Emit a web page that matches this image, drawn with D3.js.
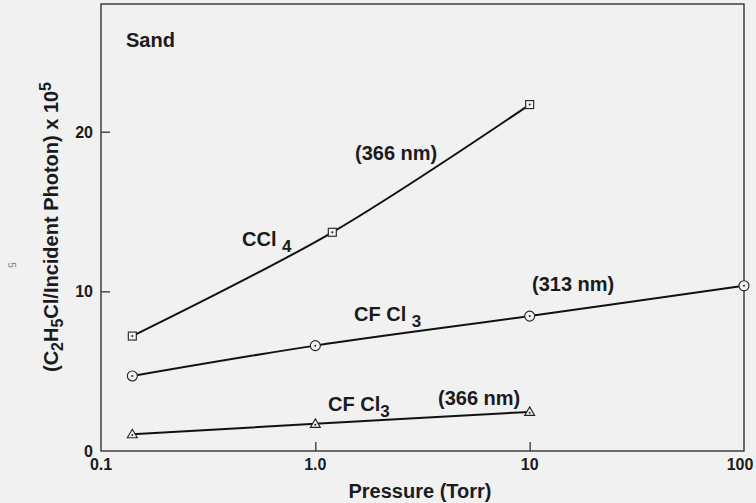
<!DOCTYPE html>
<html>
<head>
<meta charset="utf-8">
<script src="https://cdn.jsdelivr.net/npm/d3@7"></script>
<style>
  body { margin: 0; background: #f1f1f1; }
  svg { display: block; font-family: "Liberation Sans", Arial, sans-serif; font-weight: bold; }
</style>
</head>
<body>
<svg width="756" height="503"></svg>
<script>
// data
var ccl4P = [0.14, 1.2, 10];
var ccl4Y = [7.2, 13.7, 21.7];
var cfcl313P = [0.14, 1.0, 10, 100];
var cfcl313Y = [4.7, 6.6, 8.45, 10.35];
var cfcl366P = [0.14, 1.0, 10];
var cfcl366Y = [1.05, 1.7, 2.45];
var xTicks = [0.1, 1, 10, 100];
var xTickLabels = ["0.1", "1.0", "10", "100"];
var yTicks = [0, 10, 20];

var svg = d3.select("svg"),
    mLeft = 101, mRight = 744, mTop = 4, mBottom = 451;

var x = d3.scaleLog().domain([0.1, 100]).range([mLeft, mRight]);
var y = d3.scaleLinear().domain([0, 28]).range([mBottom, mTop]);

var ink = "#1b1b1b";

// frame
svg.append("rect")
    .attr("x", mLeft).attr("y", mTop)
    .attr("width", mRight - mLeft).attr("height", mBottom - mTop)
    .attr("fill", "none").attr("stroke", "#333").attr("stroke-width", 1.4);

// y ticks (inward) and labels
var yAxis = d3.axisRight(y).tickValues([10, 20]).tickSize(9).tickFormat("");
svg.append("g").attr("transform", "translate(" + mLeft + ",0)").call(yAxis)
    .call(function(g) { g.select(".domain").remove(); })
    .selectAll("line").attr("stroke", "#333").attr("stroke-width", 1.3);
svg.selectAll(".ylab").data(yTicks).enter().append("text")
    .attr("class", "ylab")
    .attr("x", 93).attr("y", function(d) { return y(d) + 6; })
    .attr("text-anchor", "end").attr("font-size", 16).attr("fill", ink)
    .text(function(d) { return d; });

// x ticks (inward, skip the ends) and labels
var xAxis = d3.axisTop(x).tickValues([1, 10]).tickSize(9).tickFormat("");
svg.append("g").attr("transform", "translate(0," + mBottom + ")").call(xAxis)
    .call(function(g) { g.select(".domain").remove(); })
    .selectAll("line").attr("stroke", "#333").attr("stroke-width", 1.3);
svg.selectAll(".xlab").data(xTicks).enter().append("text")
    .attr("class", "xlab")
    .attr("x", function(d, i) { return x(d) - (i == 3 ? 4 : 0); }).attr("y", 470)
    .attr("text-anchor", "middle").attr("font-size", 16).attr("fill", ink)
    .text(function(d, i) { return xTickLabels[i]; });

// axis titles
svg.append("text")
    .attr("x", 420).attr("y", 498)
    .attr("text-anchor", "middle").attr("font-size", 20).attr("fill", ink)
    .text("Pressure (Torr)");

var yt = svg.append("text")
    .attr("transform", "translate(58,227) rotate(-90)")
    .attr("text-anchor", "middle").attr("font-size", 20).attr("fill", ink);
yt.append("tspan").text("(C");
yt.append("tspan").attr("baseline-shift", "-30%").attr("font-size", 16).text("2");
yt.append("tspan").text("H");
yt.append("tspan").attr("baseline-shift", "-30%").attr("font-size", 16).text("5");
yt.append("tspan").text("Cl/Incident Photon) x 10");
yt.append("tspan").attr("baseline-shift", "45%").attr("font-size", 16).text("5");

// stray page mark on the left
svg.append("text")
    .attr("transform", "translate(8,265) rotate(90)")
    .attr("text-anchor", "middle").attr("font-size", 10).attr("font-weight", "normal")
    .attr("fill", "#888").text("5");

// lines
var line = d3.line()
    .x(function(d) { return x(d[0]); })
    .y(function(d) { return y(d[1]); })
    .curve(d3.curveCatmullRom);

function series(P, Y) { return P.map(function(p, i) { return [p, Y[i]]; }); }

var s1 = series(ccl4P, ccl4Y),
    s2 = series(cfcl313P, cfcl313Y),
    s3 = series(cfcl366P, cfcl366Y);

[s1, s2, s3].forEach(function(s) {
  svg.append("path").datum(s).attr("d", line)
      .attr("fill", "none").attr("stroke", "#111").attr("stroke-width", 2);
});

// markers: open symbol with a dot in the middle
function markers(data, shape) {
  var g = svg.append("g").selectAll("g").data(data).enter().append("g")
      .attr("transform", function(d) { return "translate(" + x(d[0]) + "," + y(d[1]) + ")"; });
  if (shape == "square") {
    g.append("rect").attr("x", -4).attr("y", -4).attr("width", 8).attr("height", 8);
  } else if (shape == "circle") {
    g.append("circle").attr("r", 5);
  } else {
    g.append("path").attr("d", "M0,-5L5,3.5L-5,3.5Z");
  }
  g.selectAll("rect,circle,path").attr("fill", "#f1f1f1").attr("stroke", "#222").attr("stroke-width", 1.1);
  g.append("circle").attr("r", 1).attr("cy", shape == "triangle" ? 0.8 : 0).attr("fill", "#222");
}
markers(s1, "square");
markers(s2, "circle");
markers(s3, "triangle");

// annotations
function label(xp, yp, parts, size) {
  var t = svg.append("text").attr("x", xp).attr("y", yp)
      .attr("font-size", size || 20).attr("fill", ink);
  parts.forEach(function(p) {
    var ts = t.append("tspan").text(p[0]);
    if (p[1]) ts.attr("baseline-shift", "-35%").attr("font-size", 17);
  });
}
label(126, 47, [["Sand"]]);
label(355, 160, [["(366 nm)"]]);
label(242, 246, [["CCl "], ["4", true]]);
label(532, 291, [["(313 nm)"]]);
label(354, 321, [["CF Cl "], ["3", true]]);
label(328, 411, [["CF Cl"], ["3", true]]);
label(438, 405, [["(366 nm)"]]);
</script>
</body>
</html>
